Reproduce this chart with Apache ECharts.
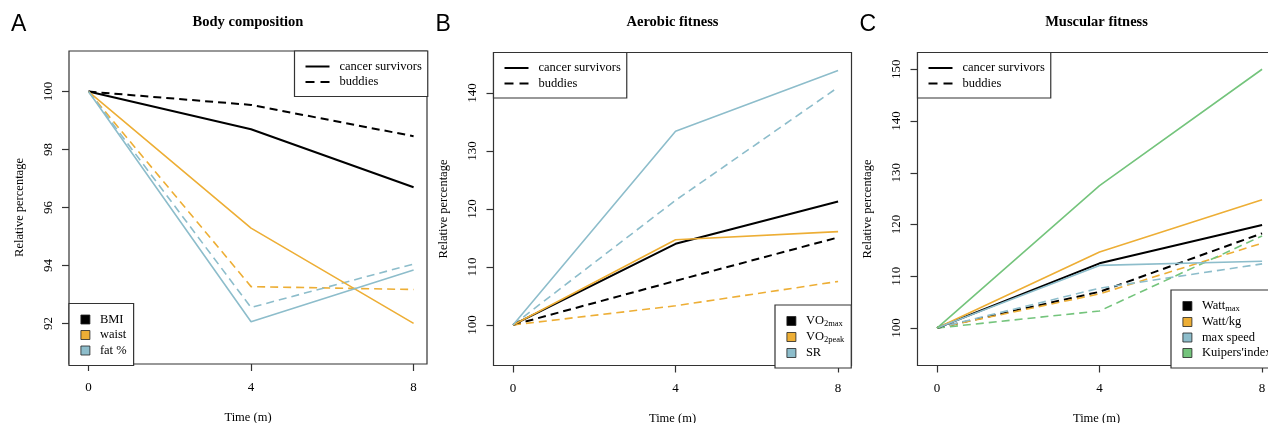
<!DOCTYPE html>
<html>
<head>
<meta charset="utf-8">
<script src="https://cdn.jsdelivr.net/npm/echarts@6/dist/echarts.min.js"></script>
<style>
    html, body { margin: 0; padding: 0; background: #fff; }
    #chart { width: 1268px; height: 423px; }
</style>
</head>
<body>
<div id="chart"></div>
<script>
/* ===========================
   Data
=========================== */

const months = [0, 4, 8];
const monthTicks = [0, 4, 8];

// A: body composition
const bmiSurvivors = [100, 98.70, 96.70];
const bmiBuddies = [100, 99.54, 98.46];
const waistSurvivors = [100, 95.29, 92.00];
const waistBuddies = [100, 93.27, 93.17];
const fatSurvivors = [100, 92.06, 93.84];
const fatBuddies = [100, 92.55, 94.05];
const ticksA = [92, 94, 96, 98, 100];

// B: aerobic fitness
const vo2maxSurvivors = [100, 114.0, 121.3];
const vo2maxBuddies = [100, 107.6, 115.1];
const vo2peakSurvivors = [100, 114.7, 116.1];
const vo2peakBuddies = [100, 103.3, 107.5];
const srSurvivors = [100, 133.4, 143.9];
const srBuddies = [100, 121.5, 141.0];
const ticksB = [100, 110, 120, 130, 140];

// C: muscular fitness
const wattmaxSurvivors = [100, 112.5, 119.9];
const wattmaxBuddies = [100, 107.0, 118.3];
const wattkgSurvivors = [100, 114.7, 124.8];
const wattkgBuddies = [100, 106.6, 116.4];
const speedSurvivors = [100, 112.1, 112.9];
const speedBuddies = [100, 107.7, 112.4];
const kuipersSurvivors = [100, 127.5, 150.0];
const kuipersBuddies = [100, 103.3, 117.8];
const ticksC = [100, 110, 120, 130, 140, 150];

/* ===========================
   Style
=========================== */

const SERIF = "'Liberation Serif', 'Times New Roman', serif";
const BLACK = "#000000";
const ORANGE = "#EDAE35";
const BLUE = "#8DBDCB";
const GREEN = "#74C47C";

const panels = [
    { letter: "A", title: "Body composition", left: 69, right: 841, top: 51, height: 313, min: 90.6, max: 101.4, ticks: ticksA },
    { letter: "B", title: "Aerobic fitness", left: 493.5, right: 416.5, top: 52.5, height: 313, min: 93, max: 147, ticks: ticksB },
    { letter: "C", title: "Muscular fitness", left: 917.5, right: -7.5, top: 52.5, height: 313, min: 92.76, max: 153.24, ticks: ticksC }
];

const PANEL_WIDTH = 358;

function toPoints(values) {
    return months.map((m, i) => [m, values[i]]);
}

function line(name, values, panel, color, dashed) {
    return {
        name: name,
        type: "line",
        xAxisIndex: panel,
        yAxisIndex: panel,
        symbol: "none",
        silent: true,
        z: dashed ? 2 : 3,
        itemStyle: { color: color },
        lineStyle: {
            color: color,
            width: color === BLACK ? 2 : 1.6,
            type: dashed ? [8, 5] : "solid"
        },
        data: toPoints(values)
    };
}

/* ===========================
   Axes / grids
=========================== */

const grids = panels.map(p => ({
    left: p.left,
    right: p.right,
    top: p.top,
    height: p.height,
    outerBoundsMode: "none",
    containLabel: false,
    show: true,
    borderColor: "#333",
    borderWidth: 1.2,
    backgroundColor: "transparent"
}));

const xAxes = panels.map((p, i) => ({
    type: "value",
    gridIndex: i,
    min: -0.48,
    max: 8.33,
    name: "Time (m)",
    nameLocation: "middle",
    nameGap: 47,
    nameTextStyle: { fontFamily: SERIF, fontSize: 12.5, color: "#000" },
    axisLine: { show: false, onZero: false },
    splitLine: { show: false },
    axisTick: { show: true, length: 7, customValues: monthTicks, lineStyle: { color: "#333", width: 1.2 } },
    axisLabel: { customValues: monthTicks, margin: 17, fontFamily: SERIF, fontSize: 13, color: "#000" }
}));

const yAxes = panels.map((p, i) => ({
    type: "value",
    gridIndex: i,
    min: p.min,
    max: p.max,
    name: "Relative percentage",
    nameLocation: "middle",
    nameGap: 43,
    nameTextStyle: { fontFamily: SERIF, fontSize: 12.5, color: "#000" },
    axisLine: { show: false, onZero: false },
    splitLine: { show: false },
    axisTick: { show: true, length: 7, customValues: p.ticks, lineStyle: { color: "#333", width: 1.2 } },
    axisLabel: { customValues: p.ticks, rotate: 90, margin: 14, fontFamily: SERIF, fontSize: 13, color: "#000" }
}));

/* ===========================
   Titles
=========================== */

const titles = [];
panels.forEach(p => {
    titles.push({
        text: p.title,
        left: p.left + PANEL_WIDTH / 2,
        top: 15,
        textAlign: "center",
        padding: 0,
        textStyle: { fontFamily: SERIF, fontSize: 14.5, fontWeight: "bold", color: "#000" }
    });
    titles.push({
        text: p.letter,
        left: p.left - 58,
        top: 13,
        padding: 0,
        textStyle: { fontFamily: "'Liberation Sans', Arial, sans-serif", fontSize: 23, fontWeight: "normal", color: "#000" }
    });
});

/* ===========================
   Legends
=========================== */

const legendText = {
    fontFamily: SERIF,
    fontSize: 12.5,
    color: "#000",
    padding: [0, 0, 0, 5],
    rich: {
        sub: { fontFamily: SERIF, fontSize: 8.5, color: "#000", verticalAlign: "bottom", padding: [5, 0, 0, 0] }
    }
};

function groupLegend(left, top) {
    return {
        orient: "vertical",
        left: left,
        top: top,
        data: [
            { name: "cancer survivors", lineStyle: { type: "solid", width: 2, color: BLACK } },
            { name: "buddies", lineStyle: { type: [9, 6], width: 2, color: BLACK } }
        ],
        itemWidth: 24,
        itemHeight: 10,
        itemGap: 2.5,
        padding: [9, 6, 8, 10],
        borderColor: "#333",
        borderWidth: 1.2,
        borderRadius: 0,
        backgroundColor: "#fff",
        selectedMode: false,
        itemStyle: { opacity: 0 },
        textStyle: legendText
    };
}

function colorLegend(names, left, top) {
    return {
        orient: "vertical",
        left: left,
        top: top,
        data: names,
        icon: "rect",
        itemWidth: 9,
        itemHeight: 9,
        itemGap: 2.5,
        padding: [9.5, 7, 8.5, 11.5],
        borderColor: "#333",
        borderWidth: 1.2,
        borderRadius: 0,
        backgroundColor: "#fff",
        selectedMode: false,
        itemStyle: { borderColor: "#222", borderWidth: 0.8 },
        textStyle: legendText,
        formatter: name => {
            if (name === "VO2max") return "VO{sub|2max}";
            if (name === "VO2peak") return "VO{sub|2peak}";
            if (name === "Wattmax") return "Watt{sub|max}";
            return name;
        }
    };
}

const legends = [
    groupLegend(294.5, 51),
    groupLegend(493.5, 52.5),
    groupLegend(917.5, 52.5),
    colorLegend(["BMI", "waist", "fat %"], 69, 303.5),
    colorLegend(["VO2max", "VO2peak", "SR"], 775, 305),
    colorLegend(["Wattmax", "Watt/kg", "max speed", "Kuipers'index"], 1171, 290)
];

/* ===========================
   Series
=========================== */

const series = [
    // legend keys for line type
    { name: "cancer survivors", type: "line", xAxisIndex: 0, yAxisIndex: 0, symbol: "none",
      itemStyle: { color: BLACK }, lineStyle: { color: BLACK, width: 2, type: "solid" }, data: [] },
    { name: "buddies", type: "line", xAxisIndex: 0, yAxisIndex: 0, symbol: "none",
      itemStyle: { color: BLACK }, lineStyle: { color: BLACK, width: 2, type: [9, 6] }, data: [] },

    line("BMI", bmiSurvivors, 0, BLACK, false),
    line("BMI", bmiBuddies, 0, BLACK, true),
    line("waist", waistSurvivors, 0, ORANGE, false),
    line("waist", waistBuddies, 0, ORANGE, true),
    line("fat %", fatSurvivors, 0, BLUE, false),
    line("fat %", fatBuddies, 0, BLUE, true),

    line("VO2max", vo2maxSurvivors, 1, BLACK, false),
    line("VO2max", vo2maxBuddies, 1, BLACK, true),
    line("VO2peak", vo2peakSurvivors, 1, ORANGE, false),
    line("VO2peak", vo2peakBuddies, 1, ORANGE, true),
    line("SR", srSurvivors, 1, BLUE, false),
    line("SR", srBuddies, 1, BLUE, true),

    line("Wattmax", wattmaxSurvivors, 2, BLACK, false),
    line("Wattmax", wattmaxBuddies, 2, BLACK, true),
    line("Watt/kg", wattkgSurvivors, 2, ORANGE, false),
    line("Watt/kg", wattkgBuddies, 2, ORANGE, true),
    line("max speed", speedSurvivors, 2, BLUE, false),
    line("max speed", speedBuddies, 2, BLUE, true),
    line("Kuipers'index", kuipersSurvivors, 2, GREEN, false),
    line("Kuipers'index", kuipersBuddies, 2, GREEN, true)
];

/* ===========================
   Start
=========================== */

const chart = echarts.init(document.getElementById("chart"), null, { renderer: "canvas" });

chart.setOption({
    animation: false,
    backgroundColor: "#fff",
    title: titles,
    legend: legends,
    grid: grids,
    xAxis: xAxes,
    yAxis: yAxes,
    series: series
});
</script>
</body>
</html>
